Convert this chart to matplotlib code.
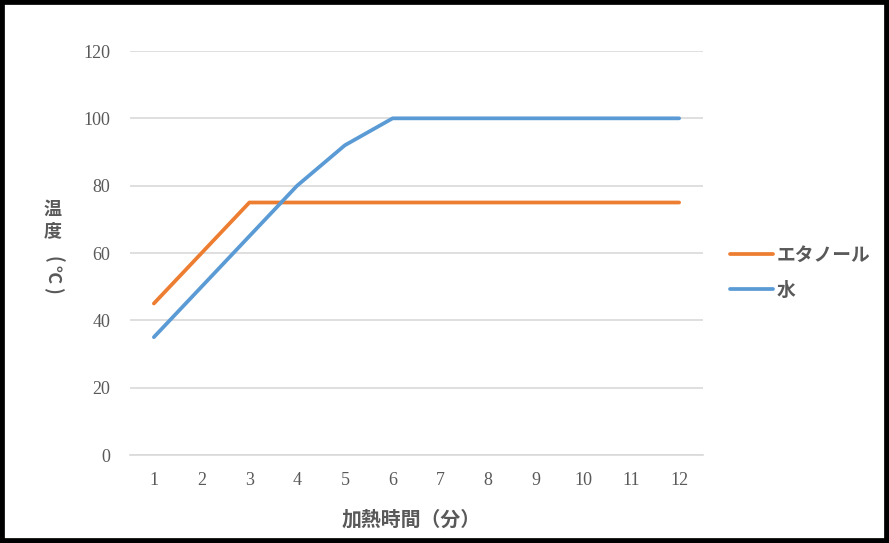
import matplotlib
matplotlib.use("Agg")
import matplotlib.pyplot as plt
from matplotlib.patches import Rectangle

minutes = [1, 2, 3, 4, 5, 6, 7, 8, 9, 10, 11, 12]
ethanol = [45, 60, 75, 75, 75, 75, 75, 75, 75, 75, 75, 75]
water = [35, 50, 65, 80, 92, 100, 100, 100, 100, 100, 100, 100]
series_names = ["エタノール", "水"]
yticks = [0, 20, 40, 60, 80, 100, 120]
xlabel = "加熱時間（分）"

W, H = 889, 543
fig = plt.figure(figsize=(W / 100, H / 100), dpi=100)
ax = fig.add_axes([130 / W, 1 - 455 / H, 573 / W, 404 / H])

jp = ["Noto Sans CJK JP", "DejaVu Sans"]
grey = "#595959"

l1, = ax.plot(minutes, ethanol, color="#ED7D31", lw=2.7, solid_capstyle="round")
l2, = ax.plot(minutes, water, color="#5B9BD5", lw=2.7, solid_capstyle="round")

ax.set_xlim(0.5, 12.5)
ax.set_ylim(0, 120)
ax.set_yticks(yticks)
ax.set_xticks(minutes)
ax.grid(axis="y", color="#d9d9d9", lw=1.2)
ax.set_axisbelow(True)
for s in ["top", "right", "left"]:
    ax.spines[s].set_visible(False)
ax.spines["bottom"].set_color("#d9d9d9")
ax.spines["bottom"].set_linewidth(1.2)
ax.tick_params(length=0, colors=grey, labelsize=13)
for lab in ax.get_xticklabels() + ax.get_yticklabels():
    lab.set_family(["Liberation Serif", "DejaVu Serif"])
ax.tick_params(axis="y", pad=14)
ax.tick_params(axis="x", pad=12)

fig.text(411 / W, 1 - 519 / H, xlabel, family=jp, weight="bold", size=14.3,
         color=grey, ha="center", va="center")
ylab_kw = dict(family=jp, weight="bold", size=13, color=grey,
               ha="center", va="center")
fig.text(53 / W, 1 - 209 / H, "温", **ylab_kw)
fig.text(53 / W, 1 - 231 / H, "度", **ylab_kw)
fig.text(53 / W, 1 - 259 / H, "(", rotation=-90, **ylab_kw)
fig.text(53 / W, 1 - 274 / H, "℃", rotation=-90, **ylab_kw)
fig.text(53 / W, 1 - 290 / H, ")", rotation=-90, **ylab_kw)

leg = fig.legend([l1, l2], series_names, loc="upper left",
                 bbox_to_anchor=(713 / W, 1 - 229 / H), frameon=False,
                 prop={"family": jp, "weight": "bold", "size": 13.5},
                 handlelength=2.3, handletextpad=0.2, labelspacing=0.85)
for t in leg.get_texts():
    t.set_color(grey)

fig.patches.append(Rectangle((0, 0), 1, 1, transform=fig.transFigure,
                             fill=False, edgecolor="black", lw=7))
fig.savefig("out.png", dpi=100, facecolor="white")
